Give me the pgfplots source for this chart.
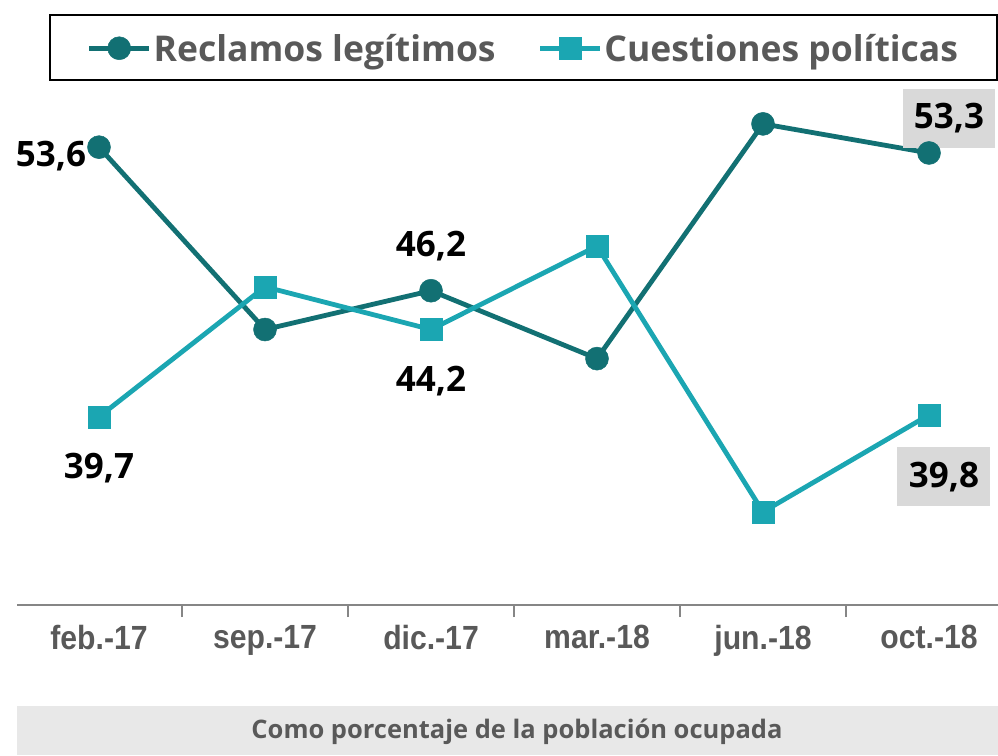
\documentclass[border=0pt]{standalone}
\usepackage{fontspec}
\setmainfont{Open Sans}
\newfontfamily\arialf[FakeStretch=0.9]{Liberation Sans}
\usepackage{pgfplots}
\pgfplotsset{compat=1.18}
\definecolor{dteal}{RGB}{18,112,115}
\definecolor{lteal}{RGB}{27,166,178}
\definecolor{txtgray}{RGB}{89,89,89}
\definecolor{axgray}{RGB}{134,134,134}
\definecolor{lblbg}{RGB}{217,217,217}
\definecolor{capbg}{RGB}{232,232,232}
\begin{document}
\begin{tikzpicture}[x=1pt,y=1pt]
\useasboundingbox (0pt,0pt) rectangle (998pt,755pt);
\fill[capbg] (17pt,0pt) rectangle (998pt,49pt);
\node[text=txtgray,font=\fontsize{25.5}{30}\selectfont\bfseries] at (517pt,23pt) {Como porcentaje de la población ocupada};
\draw[line width=2pt] (50pt,675pt) rectangle (997pt,740pt);
\begin{axis}[
  anchor=south west, at={(17pt,150pt)},
  x=166pt, y=19.4pt,
  xmin=-0.494, xmax=5.4157, ymin=30, ymax=57,
  axis x line=bottom, axis y line=none,
  x axis line style={axgray, line width=1.5pt, -},
  xtick={0,...,5},
  xticklabels={feb.-17,sep.-17,dic.-17,mar.-18,jun.-18,oct.-18},
  major tick length=0pt,
  extra x ticks={-0.5,0.5,1.5,2.5,3.5,4.5},
  extra x tick labels={},
  extra x tick style={major tick length=12pt, tick align=outside, tick style={axgray,line width=1.5pt}},
  ytick=\empty,
  xticklabel style={font=\arialf\bfseries\fontsize{33.5}{36}\selectfont, text=txtgray, yshift=-17pt},
  clip=false,
  legend columns=2,
  legend style={draw=none, fill=none, at={(0.5163,1.0629)}, anchor=center,
    font=\bfseries\fontsize{35.5}{40}\selectfont, text=txtgray,
    /tikz/every even column/.append style={column sep=40pt}},
  legend image code/.code={\draw[mark repeat=2,mark phase=2,#1] plot coordinates {(0pt,0pt) (30pt,0pt) (60pt,0pt)};},
]
\addplot[dteal, line width=4.8pt, mark=*, mark size=11.5pt, mark options={solid, line width=0.5pt}]
  coordinates {(0,53.6) (1,44.2) (2,46.2) (3,42.7) (4,54.8) (5,53.3)};
\addlegendentry{Reclamos legítimos}
\addplot[lteal, line width=4.8pt, mark=square*, mark size=11pt, mark options={solid, line width=0.5pt}]
  coordinates {(0,39.7) (1,46.4) (2,44.2) (3,48.5) (4,34.8) (5,39.8)};
\addlegendentry{Cuestiones políticas}
\tikzset{lbl/.style={font=\bfseries\fontsize{35}{40}\selectfont, text=black, inner sep=0pt}}
\node[lbl] at (axis cs:-0.289,53.16) {53,6};
\node[lbl] at (axis cs:0,37.08) {39,7};
\node[lbl] at (axis cs:2,48.52) {46,2};
\node[lbl] at (axis cs:2,41.56) {44,2};
\node[lbl, fill=lblbg, minimum width=92pt, minimum height=59pt] at (axis cs:5.12,55.1) {53,3};
\node[lbl, fill=lblbg, minimum width=93pt, minimum height=59pt] at (axis cs:5.09,36.6) {39,8};
\end{axis}
\end{tikzpicture}
\end{document}
